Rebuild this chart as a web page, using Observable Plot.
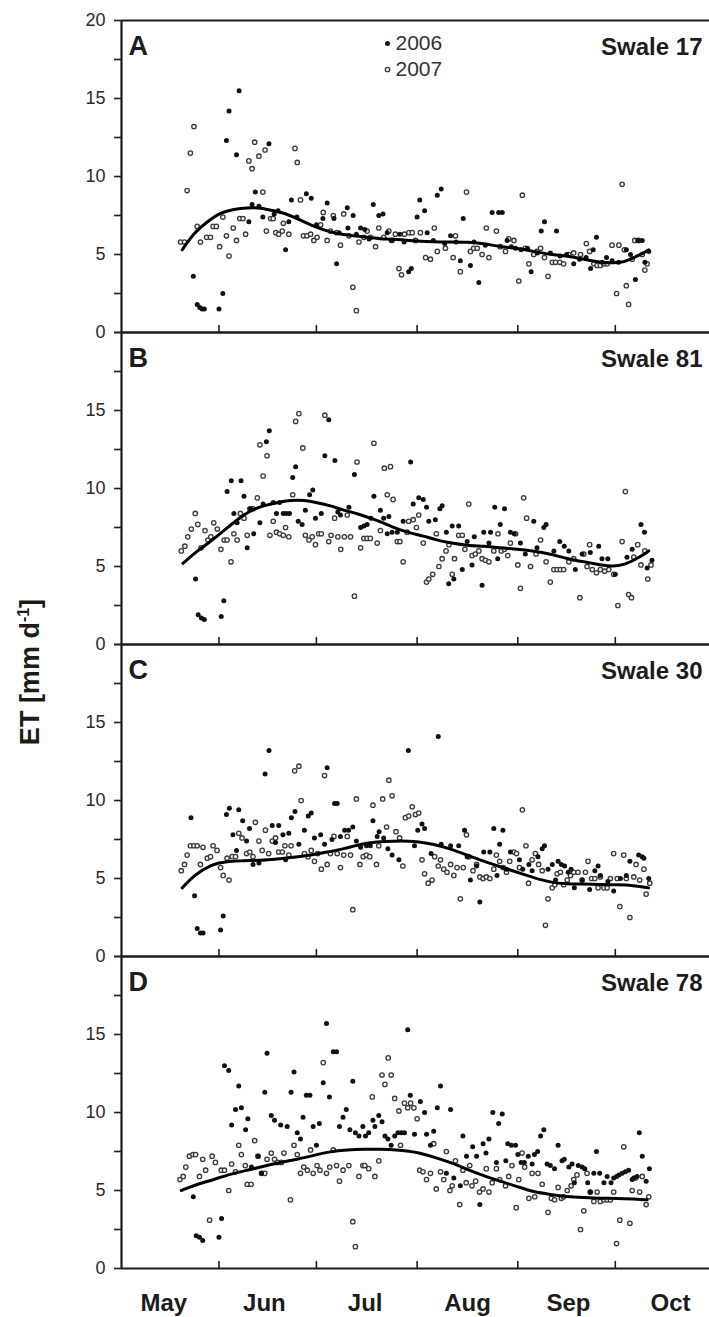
<!DOCTYPE html>
<html><head><meta charset="utf-8">
<script src="https://cdn.jsdelivr.net/npm/d3@7"></script>
<script src="https://cdn.jsdelivr.net/npm/@observablehq/plot@0.6"></script>
<style>body{margin:0;background:#fff} svg{display:block}</style>
</head><body><div id="chart"></div>
<script>
// ---- categories & ticks ----
const panels = ["A","B","C","D"];
const swaleNames = ["Swale 17","Swale 81","Swale 30","Swale 78"];
const years = [2006, 2007];
const monthNames = ["May","Jun","Jul","Aug","Sep","Oct"];
const monthLabelDays = [135, 166, 197, 228.5, 259.6, 291];   // day of year where month names sit
const monthStartDays = [152, 182, 213, 244, 274];            // Jun 1 ... Oct 1 (day of year)
const xDomain = [122, 303];
const yDomain = [0, 20];
const yTicks = [0, 2.5, 5, 7.5, 10, 12.5, 15, 17.5, 20];

// ---- series values: flat [dayOfYear, ET, dayOfYear, ET, ...] ----
const swale17_2006 = [144.1,3.6,145.3,1.8,146.1,1.6,146.8,1.5,147.5,1.5,152.0,1.5,153.2,2.5,154.3,12.3,155.1,14.2,157.4,11.4,158.2,15.5,161.2,7.1,162.2,8.2,163.2,9.0,164.3,8.1,165.5,7.4,167.4,12.1,169.0,7.6,170.2,7.8,172.5,5.3,173.5,7.1,174.3,8.5,176.0,7.4,178.9,8.9,180.4,8.6,182.0,6.9,184.0,7.3,185.3,8.3,187.4,7.3,188.2,4.4,189.0,6.4,191.5,8.0,191.7,6.7,193.3,7.5,194.3,6.3,195.6,6.7,196.9,6.6,198.2,6.0,199.5,8.2,201.2,7.5,202.5,7.6,203.8,6.4,205.0,5.9,207.7,6.3,209.0,5.8,210.4,3.9,211.2,4.1,213.0,7.4,213.8,8.5,215.3,7.8,216.1,6.4,218.0,5.9,219.2,8.8,220.4,9.2,221.5,5.7,223.3,6.2,225.0,5.8,226.3,4.6,227.2,7.3,229.4,4.3,230.5,5.8,232.0,3.2,234.0,5.6,236.1,7.7,238.1,7.7,239.2,7.7,240.7,5.9,242.0,5.5,243.3,5.4,245.0,5.3,247.0,5.4,248.1,3.9,250.0,5.1,251.2,6.5,252.2,7.1,254.0,5.1,255.9,6.5,257.0,4.9,259.0,5.0,261.2,4.4,263.0,4.7,265.0,4.8,266.4,4.1,267.2,5.3,268.2,6.1,270.0,4.5,271.3,4.8,273.0,4.6,275.0,4.5,277.4,5.3,278.7,5.0,280.2,3.4,280.9,5.9,282.3,5.9,283.1,4.5,284.3,5.2];
const swale17_2007 = [140.2,5.8,141.4,5.8,142.2,9.1,143.2,11.5,144.3,13.2,145.3,6.8,146.3,5.8,148.2,6.1,149.4,6.1,150.2,6.8,151.2,6.8,152.2,5.5,153.2,7.4,154.3,6.2,155.1,4.9,156.4,6.7,157.4,5.9,158.4,7.3,159.4,7.3,160.2,6.3,161.2,11.0,162.2,10.5,163.0,12.2,164.3,11.3,165.5,9.0,166.2,11.7,166.6,6.5,167.9,7.3,168.7,7.3,169.5,6.4,170.4,6.3,171.5,6.5,171.8,7.0,173.5,6.3,175.4,11.8,176.1,10.9,177.1,8.5,178.0,6.2,179.1,6.2,180.2,6.3,181.2,5.9,182.2,6.1,183.3,6.9,184.1,7.7,185.3,5.9,186.3,6.5,187.2,7.5,188.2,6.4,189.4,5.6,190.4,7.6,192.0,6.2,193.2,2.9,194.3,1.4,195.1,5.8,196.6,6.1,197.6,6.5,198.6,6.1,200.2,5.5,201.2,6.7,202.7,6.1,204.3,6.5,205.3,5.9,206.3,6.3,207.4,4.1,208.2,3.7,209.1,6.3,210.5,6.4,211.5,6.4,212.5,5.9,214.0,6.4,215.6,4.8,217.1,4.7,218.3,6.7,219.2,5.2,221.7,5.4,224.1,4.8,224.8,6.2,226.3,3.9,228.2,9.0,229.4,5.2,230.4,5.4,231.5,5.4,233.0,5.0,234.3,6.7,235.1,4.8,237.4,6.5,238.6,5.5,240.2,5.2,241.2,6.0,242.8,5.9,244.3,3.3,245.4,8.8,246.3,5.4,247.4,4.4,248.9,5.0,249.9,5.2,251.0,5.4,252.2,4.8,253.3,3.6,254.6,4.5,255.6,4.5,256.9,4.5,258.1,4.4,259.7,5.0,261.2,5.1,263.3,5.0,265.1,5.7,266.1,5.2,267.4,4.4,268.4,4.3,269.4,4.3,270.5,4.4,271.5,4.4,273.0,5.6,274.4,2.5,275.1,5.6,276.1,9.5,276.8,5.3,277.4,3.0,278.1,1.8,279.2,4.7,280.0,5.9,281.2,5.9,282.3,5.0,283.1,4.0,283.8,4.4];
const swale17_fit = [140.7,5.3,144.3,6.4,148.4,7.1,152.5,7.7,156.6,7.9,160.7,8.0,164.8,8.0,168.9,7.8,173.0,7.6,177.1,7.2,181.2,6.8,185.3,6.5,189.4,6.3,193.5,6.2,197.6,6.1,201.7,6.0,205.8,6.0,209.9,5.9,218.1,5.8,223.3,5.8,228.4,5.8,233.5,5.7,238.6,5.5,243.8,5.4,248.9,5.2,254.0,5.0,259.2,4.9,264.3,4.7,269.4,4.5,273.5,4.45,276.6,4.5,279.7,4.8,282.8,5.1,284.3,5.3];

const swale81_2006 = [144.8,4.2,145.6,1.9,146.6,1.7,147.5,1.6,152.7,1.8,153.5,2.8,154.5,9.8,155.8,10.5,156.6,8.4,157.6,7.8,158.8,10.5,159.7,9.5,160.7,6.2,161.7,8.7,162.7,7.1,164.6,7.8,165.6,9.0,166.6,13.0,167.5,13.7,168.7,9.1,169.7,8.4,170.7,9.1,171.8,8.4,172.7,8.4,173.7,8.4,174.7,10.7,175.6,11.4,176.4,7.9,177.6,7.7,178.6,8.6,179.9,9.6,180.9,9.9,181.7,8.1,183.5,8.4,184.6,12.1,185.8,14.4,187.7,11.8,188.6,8.5,189.4,8.3,192.0,8.8,193.7,10.9,195.6,7.5,196.6,7.6,197.6,7.7,198.8,8.1,199.7,9.5,201.7,8.6,202.7,8.1,203.8,7.1,204.3,8.2,205.3,7.2,206.9,7.2,208.7,7.9,211.0,11.7,211.8,9.0,213.5,9.4,214.9,9.3,215.9,8.8,216.6,7.9,218.6,8.0,220.0,8.7,220.7,8.9,222.0,7.2,222.7,3.9,223.8,7.6,224.3,4.2,225.8,7.6,226.9,4.8,228.4,6.6,229.9,5.1,230.6,6.9,233.0,3.8,233.5,7.2,235.1,6.5,235.6,7.2,236.9,8.8,237.8,5.5,238.6,7.7,239.9,8.7,241.7,7.2,242.9,7.1,244.8,6.5,246.3,5.8,248.9,7.9,249.9,6.2,252.0,7.5,252.7,7.7,255.1,6.0,256.9,6.6,258.3,6.3,259.7,6.0,261.7,4.8,263.8,5.8,266.3,5.9,268.9,6.3,269.9,5.5,271.7,5.5,274.0,4.5,277.6,5.6,279.2,6.1,281.9,7.7,283.0,7.2,283.8,4.9,285.3,5.4];
const swale81_2007 = [140.4,6.0,141.5,6.3,142.4,6.9,143.5,7.4,144.7,8.4,145.5,7.7,146.5,6.2,147.7,7.3,148.6,6.7,149.5,6.9,150.4,7.8,151.5,7.4,152.6,6.1,153.6,6.7,154.5,6.7,155.7,5.3,156.6,7.1,157.6,6.7,158.6,8.4,159.7,8.1,160.7,7.0,161.5,8.7,162.5,8.7,163.8,9.4,164.6,12.8,165.6,10.8,166.8,12.1,167.7,7.0,168.7,7.9,169.7,7.2,170.7,7.1,171.8,7.0,172.5,7.5,173.5,6.9,174.7,9.6,175.6,14.3,176.6,14.8,177.8,12.6,178.6,7.0,179.7,6.7,180.7,6.9,181.7,6.4,182.7,7.1,183.5,7.1,184.6,14.7,185.8,6.6,186.5,7.0,187.6,8.1,188.6,6.9,189.5,6.1,190.6,6.9,191.5,8.3,192.5,6.9,193.7,3.1,194.5,11.7,195.6,6.2,196.6,6.8,197.6,6.8,198.6,6.8,199.7,12.9,200.7,6.5,201.7,7.3,202.9,11.3,203.8,9.6,204.8,11.4,205.6,9.3,206.9,6.6,207.7,6.6,208.7,5.3,209.9,7.2,210.4,7.9,211.8,8.0,212.8,7.5,213.5,8.3,214.9,6.5,215.9,4.0,216.6,4.2,217.8,4.5,218.9,7.1,219.7,5.0,220.7,5.5,221.9,6.0,222.8,6.4,223.8,4.5,224.5,5.5,225.8,7.0,226.9,7.0,227.7,6.1,228.9,9.0,229.9,5.7,230.9,5.8,232.0,6.0,233.0,5.5,234.0,5.4,235.1,5.3,236.6,6.0,237.9,7.1,238.9,6.0,239.9,6.1,240.9,5.7,241.7,6.5,243.3,7.1,244.0,5.1,244.8,3.6,245.8,9.4,246.7,8.1,247.9,5.0,249.6,5.8,251.0,6.7,252.7,5.3,254.0,4.0,255.1,4.8,256.1,4.8,257.1,4.8,258.1,4.8,259.7,5.3,261.2,5.5,263.1,3.0,264.3,5.8,265.3,5.0,266.1,6.4,266.9,4.8,268.2,4.6,269.4,4.8,270.7,4.7,272.0,4.8,273.5,4.5,274.8,2.5,276.1,6.6,277.1,9.8,278.1,3.2,279.0,3.0,279.7,5.6,280.9,6.4,281.9,5.1,283.1,6.0,284.0,4.2,285.0,5.1];
const swale81_fit = [140.9,5.2,145.3,6.0,149.4,6.6,153.5,7.3,157.6,8.0,161.7,8.6,165.8,8.9,169.9,9.1,174.0,9.25,178.1,9.25,182.2,9.1,186.3,8.9,190.4,8.6,194.5,8.4,198.6,8.1,202.7,7.8,206.8,7.4,210.9,7.15,215.1,6.95,218.1,6.75,223.3,6.5,228.4,6.35,233.5,6.3,238.6,6.2,243.8,6.1,248.9,6.0,254.0,5.8,259.2,5.5,264.3,5.3,269.4,5.1,273.5,5.0,276.6,5.1,279.7,5.4,282.3,5.7,284.3,6.0];

const swale30_2006 = [143.4,8.9,144.5,3.9,145.3,1.8,146.3,1.5,147.1,1.5,152.5,1.7,153.3,2.6,154.3,9.1,155.2,9.5,156.3,7.8,157.4,6.8,158.1,9.4,159.3,8.7,160.5,7.4,161.4,8.2,162.5,5.9,164.3,6.0,166.2,11.7,167.4,13.2,168.4,8.4,169.4,7.3,170.4,8.4,171.7,7.8,172.5,6.2,173.5,7.9,174.3,8.9,175.4,9.3,176.6,7.2,178.3,8.1,179.5,9.0,180.4,9.2,181.4,7.6,183.3,7.8,184.5,7.2,185.3,12.1,186.8,7.5,187.6,9.8,188.4,9.8,189.4,7.7,190.7,8.1,191.9,8.1,193.2,8.3,194.3,7.4,195.6,7.0,197.4,7.1,198.6,7.1,199.4,8.7,200.7,7.7,201.3,8.0,202.7,7.6,204.0,6.9,205.3,6.5,207.4,6.2,210.3,13.2,212.2,7.1,213.2,8.1,214.5,8.5,215.3,8.2,217.3,6.6,219.5,14.1,220.4,7.2,223.3,7.1,225.8,7.1,227.6,8.1,228.4,6.4,229.4,4.9,231.3,5.8,232.3,3.5,233.5,6.7,235.4,6.7,236.6,8.2,237.6,5.2,238.4,7.2,239.4,8.1,240.5,5.6,241.7,6.7,244.5,6.2,245.5,5.6,247.4,5.9,248.4,5.5,250.2,6.4,251.5,6.9,252.2,7.1,253.3,5.6,254.6,5.9,255.6,4.9,256.4,6.1,257.4,5.9,258.4,5.8,259.5,5.4,260.4,5.6,261.4,4.4,263.8,4.9,266.1,4.3,267.7,5.5,268.7,5.8,269.4,5.2,271.7,4.8,273.5,4.2,275.6,5.0,277.4,5.2,278.5,6.1,281.2,6.5,282.3,6.4,282.8,6.3,284.3,5.0];
const swale30_2007 = [140.4,5.5,141.4,5.9,142.2,6.5,143.2,7.1,144.3,7.1,145.3,7.1,146.3,5.9,147.1,7.0,148.4,6.3,149.4,6.4,150.2,7.1,151.4,6.8,152.5,5.7,153.3,5.2,154.5,6.3,155.1,4.9,156.1,6.4,157.1,6.4,158.1,7.9,159.1,7.6,160.5,6.6,161.5,6.7,162.5,6.4,163.2,8.6,164.3,7.4,165.3,6.8,166.3,8.1,167.3,6.6,168.4,7.4,169.4,7.6,170.4,6.7,171.5,6.7,172.3,7.1,173.5,6.5,174.2,7.1,175.3,11.9,176.6,12.2,177.3,10.0,178.3,6.6,179.4,6.4,180.4,6.8,181.4,6.1,182.4,6.6,183.5,5.6,184.5,11.6,185.3,5.9,186.3,6.6,187.4,7.7,188.4,6.6,189.4,5.7,190.4,6.5,191.5,7.7,192.5,6.5,193.2,3.0,194.3,10.1,195.4,5.9,196.4,6.4,197.4,6.5,198.4,6.4,199.4,9.7,200.5,5.9,201.2,7.1,202.4,10.1,203.6,8.3,204.3,11.3,205.3,10.3,206.5,8.0,207.6,7.6,208.6,5.8,209.4,8.9,210.4,9.0,211.5,9.6,212.5,9.1,213.5,9.2,214.5,6.2,215.3,5.3,216.4,4.7,217.6,4.9,218.4,6.4,219.5,5.8,220.2,6.2,221.2,5.6,222.2,5.4,223.3,5.9,224.3,5.2,225.3,5.7,226.3,3.7,227.2,5.7,228.2,7.8,228.9,6.4,230.2,5.5,231.3,5.9,232.3,5.1,233.3,5.0,234.3,5.1,235.4,5.0,236.6,5.6,237.4,6.5,238.4,6.1,239.5,5.7,240.5,5.4,241.5,6.1,242.8,6.7,243.6,6.6,244.5,5.7,245.4,9.4,246.5,7.1,247.3,4.7,248.4,6.2,249.4,6.6,250.4,5.9,251.5,5.5,252.5,2.0,253.3,3.7,254.6,4.4,255.4,4.6,256.1,5.3,257.1,5.4,258.1,4.6,259.2,4.9,260.2,5.2,261.2,5.4,262.5,5.4,263.8,4.9,264.8,5.4,265.6,6.1,266.7,5.0,267.7,5.0,268.7,4.4,269.4,5.1,270.5,4.4,271.5,4.4,272.5,5.0,273.5,6.6,274.6,5.0,275.4,3.2,276.6,6.5,277.4,5.0,278.5,2.5,279.7,5.1,280.4,5.9,281.5,4.9,282.8,5.6,283.5,4.0,284.6,4.7];
const swale30_fit = [140.7,4.4,144.3,5.2,149.4,5.9,154.5,6.1,159.7,6.15,164.8,6.15,169.9,6.25,175.0,6.35,180.2,6.5,185.3,6.7,190.4,6.9,195.6,7.2,200.7,7.35,205.8,7.4,210.9,7.4,213.0,7.35,218.1,7.2,223.3,6.9,228.4,6.5,233.5,6.1,238.6,5.75,243.8,5.4,248.9,5.05,254.0,4.75,259.2,4.65,264.3,4.65,269.4,4.6,274.6,4.6,279.7,4.55,284.3,4.4];

const swale78_2006 = [144.1,4.6,145.0,2.1,146.0,2.0,147.0,1.8,152.0,2.0,152.8,3.2,153.7,13.0,155.0,12.7,155.9,9.2,157.1,10.2,158.1,11.7,158.9,10.3,160.2,8.9,160.9,9.6,162.0,6.5,164.1,7.2,165.1,6.1,166.1,11.3,166.8,13.8,168.1,9.8,169.1,9.5,171.0,9.2,173.0,9.1,174.2,11.3,175.1,12.6,176.1,8.7,177.1,8.3,177.9,9.7,178.9,11.1,180.0,11.1,181.0,9.1,182.0,7.9,182.9,9.3,184.1,11.9,185.1,15.7,186.0,11.0,187.2,13.9,188.2,13.9,189.1,9.1,190.2,9.7,191.2,10.2,192.3,8.9,193.2,12.0,194.0,8.7,195.1,8.5,196.3,9.1,197.1,8.5,198.1,8.7,199.4,9.5,200.0,9.1,201.2,9.8,202.2,9.4,203.1,8.5,204.0,8.3,205.0,7.9,206.1,8.5,207.1,8.7,208.1,8.7,209.1,8.7,210.1,15.3,210.9,11.1,212.2,8.6,214.0,10.7,215.3,10.0,215.9,8.6,217.1,7.9,218.1,8.8,219.2,10.3,220.2,11.7,222.0,6.1,223.3,10.2,224.3,5.8,226.3,5.3,227.1,8.5,228.2,7.2,230.1,7.8,231.3,7.2,232.3,4.1,233.3,8.0,234.2,7.4,235.1,8.3,236.3,10.0,237.4,6.8,238.1,9.3,239.2,9.9,240.3,6.9,240.9,8.0,242.0,7.9,243.3,7.9,244.0,7.3,245.0,6.8,246.0,6.8,247.2,7.2,248.4,6.7,249.1,7.3,250.1,7.5,251.0,8.5,252.0,8.9,253.0,6.7,254.0,6.6,255.3,6.4,256.4,7.9,257.6,6.9,258.3,7.0,259.7,6.5,260.7,6.7,261.4,5.5,262.6,6.6,263.8,6.5,264.6,6.4,265.5,5.5,266.3,4.9,267.4,6.1,268.2,7.5,269.2,6.1,270.5,5.5,271.5,5.9,272.7,5.5,273.5,5.8,274.4,5.9,275.1,6.0,276.1,6.1,277.1,6.2,278.1,6.3,279.2,5.7,279.7,5.8,280.7,5.9,281.4,8.7,282.3,7.2,283.5,5.6,284.5,6.4];
const swale78_2007 = [140.0,5.7,141.0,5.9,141.8,6.5,142.9,7.2,144.0,7.3,144.8,7.3,146.0,5.9,147.0,7.0,147.9,6.3,149.1,3.1,149.9,7.2,150.9,6.8,152.7,6.3,153.7,6.3,155.0,5.0,155.9,6.7,157.1,6.2,158.1,7.9,158.9,7.3,160.1,6.6,160.7,5.4,161.9,5.4,163.0,8.2,164.0,7.2,165.1,6.1,166.1,6.1,166.8,7.0,168.1,7.4,169.1,7.0,170.1,6.8,171.2,6.8,172.0,7.4,174.0,4.4,175.1,7.9,176.1,7.3,177.1,6.1,178.1,6.5,179.2,6.3,180.2,7.6,181.0,6.1,182.2,6.6,183.1,6.3,184.1,13.2,185.1,6.1,186.1,6.5,187.2,7.6,188.2,6.6,189.1,5.6,190.2,6.3,192.0,6.6,193.2,3.0,194.0,1.4,195.1,5.9,196.3,6.6,196.9,6.6,198.1,6.4,199.2,11.0,200.0,5.9,201.2,6.9,202.2,12.4,203.1,11.8,204.1,13.5,205.0,12.4,206.1,10.9,207.4,10.1,207.9,7.9,209.1,10.6,210.1,10.3,211.0,10.6,212.0,10.3,213.0,9.6,213.8,6.3,214.8,6.2,215.9,5.7,217.1,6.1,218.1,8.0,218.9,5.1,220.2,6.2,221.2,5.7,222.0,7.5,223.1,5.0,223.8,5.3,224.8,6.9,226.1,4.1,227.1,6.3,228.1,5.5,229.2,6.6,229.9,5.3,231.0,5.6,232.2,4.9,233.3,5.1,234.3,6.4,235.1,4.9,236.1,5.5,237.4,6.4,238.4,5.7,240.2,5.3,241.2,5.9,242.2,6.6,243.5,3.9,244.3,5.7,245.3,7.4,246.1,6.5,247.4,4.5,248.4,6.1,249.2,4.6,250.2,6.1,251.5,5.4,253.3,3.6,254.3,4.5,255.3,4.4,256.4,5.2,257.4,4.5,258.1,4.6,259.2,5.0,260.4,5.3,261.2,5.7,262.2,6.0,263.3,2.5,264.3,3.7,265.3,6.1,266.3,4.9,267.4,4.3,268.4,4.9,269.4,4.3,270.5,4.4,271.5,4.4,272.5,4.4,273.5,4.9,274.4,1.6,275.4,3.1,276.6,7.8,278.5,2.9,279.2,5.0,280.2,5.8,281.5,4.9,282.3,5.9,283.5,4.1,284.3,4.6];
const swale78_fit = [140.4,5.0,145.3,5.4,150.4,5.7,155.5,6.05,160.7,6.3,165.8,6.55,170.9,6.8,176.1,7.0,181.2,7.25,186.3,7.5,191.5,7.6,196.6,7.65,201.7,7.65,206.8,7.6,210.9,7.5,213.0,7.45,218.1,7.15,223.3,6.8,228.4,6.35,233.5,5.95,238.6,5.6,243.8,5.25,248.9,4.9,254.0,4.75,259.2,4.6,264.3,4.55,269.4,4.5,274.6,4.5,279.7,4.45,283.8,4.4];

// ---- assemble tables ----
const obsByPanel = {
  A: [swale17_2006, swale17_2007],
  B: [swale81_2006, swale81_2007],
  C: [swale30_2006, swale30_2007],
  D: [swale78_2006, swale78_2007]
};
const fitByPanel = {A: swale17_fit, B: swale81_fit, C: swale30_fit, D: swale78_fit};

function toRows(flat, extra) {
  const out = [];
  for (let i = 0; i < flat.length; i += 2) out.push({day: flat[i], et: flat[i + 1], ...extra});
  return out;
}
const obs = panels.flatMap(p => years.flatMap((yr, k) => toRows(obsByPanel[p][k], {panel: p, year: yr})));
const fits = panels.flatMap(p => toRows(fitByPanel[p], {panel: p}));
const panelInfo = panels.map((p, i) => ({panel: p, name: swaleNames[i]}));
const legendRows = years.map(y => ({panel: "A", year: y, label: String(y)}));

const font = "'Liberation Sans', Arial, Helvetica, sans-serif";
const ink = "#1c1c1c";

const chart = Plot.plot({
  width: 709, height: 1317,
  marginTop: 20, marginBottom: 49, marginLeft: 121, marginRight: 0,
  style: {fontFamily: font, background: "#fff", color: ink, overflow: "visible"},
  x: {domain: xDomain, axis: null},
  y: {domain: yDomain, axis: null},
  fy: {domain: panels, axis: null, padding: 0},
  marks: [
    // y axis (outward ticks, labels 0-15 each panel)
    Plot.axisY({ticks: yTicks, facetAnchor: null, tickSize: 7, tickPadding: 9, strokeWidth: 1.6,
      fontSize: 18, fill: "#2a2a2a", label: null,
      tickFormat: d => (d % 5 === 0 && d < 20) ? String(d) : ""}),
    Plot.text(panelInfo.filter(d => d.panel === "A"), {fy: "panel", y: () => 20, text: () => "20",
      frameAnchor: "left", dx: -16, textAnchor: "end", fontSize: 18, fill: "#2a2a2a"}),
    // inward month-start ticks on bottom edge of every panel
    Plot.tickX(monthStartDays, {x: d => d, insetTop: 305, stroke: ink, strokeWidth: 1.6}),
    // frame lines
    Plot.ruleY([yDomain[0], yDomain[1]], {stroke: ink, strokeWidth: 2}),
    Plot.ruleX([xDomain[0]], {stroke: ink, strokeWidth: 2.2}),
    // observations
    Plot.dot(obs.filter(d => d.year === 2007), {x: "day", y: "et", fy: "panel", r: 2.2,
      fill: "#f4f4f4", stroke: "#3a3a3a", strokeWidth: 1.3}),
    Plot.dot(obs.filter(d => d.year === 2006), {x: "day", y: "et", fy: "panel", r: 2.5,
      fill: "#111", stroke: "none"}),
    // smoothed curve
    Plot.line(fits, {x: "day", y: "et", fy: "panel", curve: "basis", stroke: "#000", strokeWidth: 3}),
    // panel letters and names
    Plot.text(panelInfo, {fy: "panel", text: "panel", frameAnchor: "top-left", dx: 7, dy: 15,
      lineAnchor: "top", textAnchor: "start", fontSize: 27, fontWeight: "bold", fill: ink}),
    Plot.text(panelInfo, {fy: "panel", text: "name", frameAnchor: "top-right", dx: -7, dy: 17,
      lineAnchor: "top", textAnchor: "end", fontSize: 24, fontWeight: "bold", fill: ink}),
    // legend
    Plot.dot(legendRows.filter(d => d.year === 2006), {fy: "panel", frameAnchor: "top-left", dx: 266, dy: 23,
      r: 2.5, fill: "#111"}),
    Plot.dot(legendRows.filter(d => d.year === 2007), {fy: "panel", frameAnchor: "top-left", dx: 266, dy: 49,
      r: 2.2, fill: "#f4f4f4", stroke: "#3a3a3a", strokeWidth: 1.3}),
    Plot.text(legendRows.filter(d => d.year === 2006), {fy: "panel", text: "label", frameAnchor: "top-left",
      dx: 274, dy: 23, textAnchor: "start", lineAnchor: "middle", fontSize: 21, fill: "#333"}),
    Plot.text(legendRows.filter(d => d.year === 2007), {fy: "panel", text: "label", frameAnchor: "top-left",
      dx: 274, dy: 49, textAnchor: "start", lineAnchor: "middle", fontSize: 21, fill: "#333"}),
    // month names under bottom panel
    Plot.axisX({ticks: monthLabelDays, tickSize: 0, tickPadding: 25, label: null,
      tickFormat: d => monthNames[monthLabelDays.indexOf(d)], fontSize: 24, fontWeight: "bold", fill: ink})
  ]
});

// y-axis title
const svg = d3.select(chart);
const title = svg.append("text")
  .attr("transform", "translate(39,672) rotate(-90)")
  .attr("text-anchor", "middle")
  .attr("font-family", font).attr("font-weight", "bold").attr("font-size", 27).attr("fill", ink);
title.append("tspan").text("ET [mm d");
title.append("tspan").attr("dy", -10).attr("font-size", 16).text("-1");
title.append("tspan").attr("dy", 10).text("]");

document.getElementById("chart").appendChild(chart);
</script>
</body></html>
